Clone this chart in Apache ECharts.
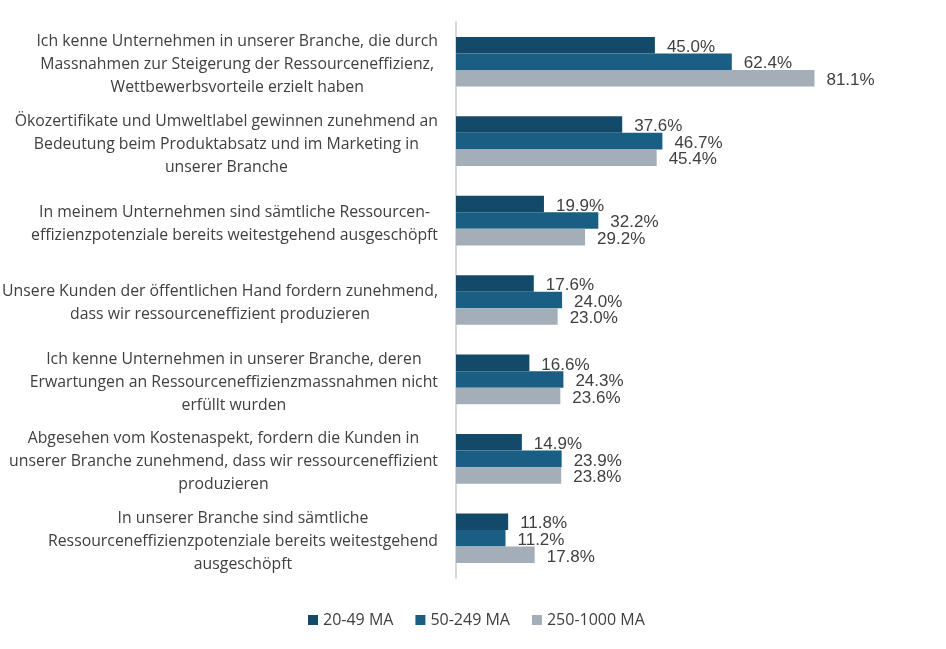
<!DOCTYPE html>
<html>
<head>
<meta charset="utf-8">
<script src="https://cdn.jsdelivr.net/npm/echarts@6/dist/echarts.min.js"></script>
<style>
  html, body { margin: 0; padding: 0; background: #fff; }
  #main { width: 946px; height: 649px; }
</style>
</head>
<body>
<div id="main"></div>
<script>
const categories = [
  'Ich kenne Unternehmen in unserer Branche, die durch\nMassnahmen zur Steigerung der Ressourceneffizienz,\nWettbewerbsvorteile erzielt haben',
  'Ökozertifikate und Umweltlabel gewinnen zunehmend an\nBedeutung beim Produktabsatz und im Marketing in\nunserer Branche',
  'In meinem Unternehmen sind sämtliche Ressourcen-\neffizienzpotenziale bereits weitestgehend ausgeschöpft',
  'Unsere Kunden der öffentlichen Hand fordern zunehmend,\ndass wir ressourceneffizient produzieren',
  'Ich kenne Unternehmen in unserer Branche, deren\nErwartungen an Ressourceneffizienzmassnahmen nicht\nerfüllt wurden',
  'Abgesehen vom Kostenaspekt, fordern die Kunden in\nunserer Branche zunehmend, dass wir ressourceneffizient\nproduzieren',
  'In unserer Branche sind sämtliche\nRessourceneffizienzpotenziale bereits weitestgehend\nausgeschöpft'
]
const seriesNames = ['20-49 MA', '50-249 MA', '250-1000 MA']
const small = [45.0, 37.6, 19.9, 17.6, 16.6, 14.9, 11.8]
const medium = [62.4, 46.7, 32.2, 24.0, 24.3, 23.9, 11.2]
const large = [81.1, 45.4, 29.2, 23.0, 23.6, 23.8, 17.8]
const colors = ['#144a69', '#1a5f83', '#a3aeb9']

let myChart = echarts.init(document.getElementById('main'))

function makeSeries(name, data, color) {
  return {
    name: name,
    type: 'bar',
    data: data,
    barGap: '0%',
    barCategoryGap: '37.5%',
    itemStyle: { color: color },
    label: {
      show: true,
      position: 'right',
      distance: 12,
      offset: [0, 2],
      fontFamily: 'Liberation Sans, Arial',
      fontSize: 17,
      color: '#404040',
      formatter: (p) => p.value.toFixed(1) + '%'
    }
  }
}

myChart.setOption({
  animation: false,
  textStyle: { fontFamily: 'Open Sans' },
  color: colors,
  legend: {
    bottom: 16,
    left: 303,
    itemWidth: 10,
    itemHeight: 10,
    itemGap: 22,
    icon: 'rect',
    textStyle: { fontFamily: 'Open Sans', fontSize: 16, color: '#404040' },
    data: seriesNames
  },
  grid: {
    left: 456,
    right: 48,
    top: 22,
    bottom: 71,
    outerBoundsMode: 'none',
    containLabel: false
  },
  xAxis: {
    type: 'value',
    min: 0,
    max: 100,
    show: false
  },
  yAxis: {
    type: 'category',
    inverse: true,
    data: categories,
    axisLine: { show: true, lineStyle: { color: '#d9d9d9', width: 2 } },
    axisTick: { show: false },
    axisLabel: {
      margin: 18,
      align: 'right',
      padding: [6, 0, 0, 0],
      formatter: (v) => v.split('\n').map(l => '{c|' + l + '}').join('\n'),
      rich: {
        c: {
          align: 'center',
          fontFamily: 'Open Sans',
          fontSize: 15.8,
          lineHeight: 23,
          color: '#404040'
        }
      }
    }
  },
  series: [
    makeSeries(seriesNames[0], small, colors[0]),
    makeSeries(seriesNames[1], medium, colors[1]),
    makeSeries(seriesNames[2], large, colors[2])
  ]
})
</script>
</body>
</html>
